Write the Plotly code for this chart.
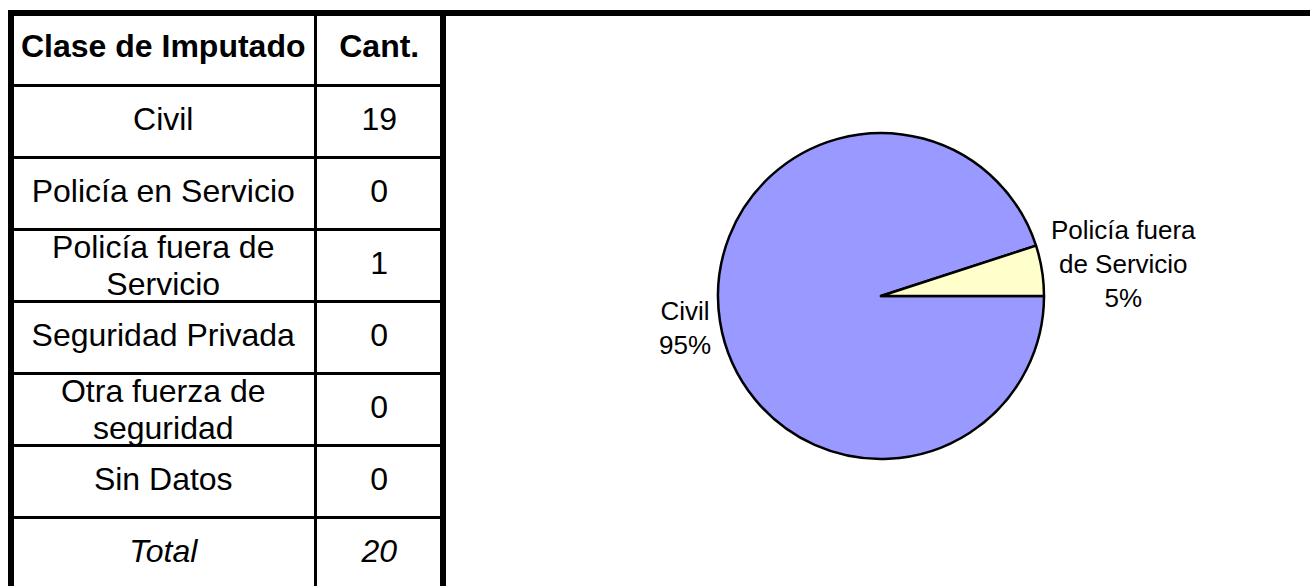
import math
import plotly.graph_objects as go

# ---------------- data ----------------
header = ["Clase de Imputado", "Cant."]
categories = ["Civil", "Policía en Servicio", "Policía fuera de Servicio",
              "Seguridad Privada", "Otra fuerza de seguridad", "Sin Datos"]
counts = [19, 0, 1, 0, 0, 0]
table_lines = [["Civil"], ["Policía en Servicio"], ["Policía fuera de", "Servicio"],
               ["Seguridad Privada"], ["Otra fuerza de", "seguridad"], ["Sin Datos"]]
pie_labels = ["Civil", "Policía en Servicio", "Policía fuera<br>de Servicio",
              "Seguridad Privada", "Otra fuerza de<br>seguridad", "Sin Datos"]
slice_colors = ["#9999FF", "#993366", "#FFFFCC", "#CCFFFF", "#660066", "#FF8080"]
total_label = "Total"
total_value = sum(counts)

# ---------------- layout constants ----------------
W, H = 1310, 586
FONT = "Liberation Sans, Arial, sans-serif"
T_FS = 32
L_FS = 26
LEFT, SPLIT, RIGHT = 11, 315.5, 443
TOP = 13
HEADER_H = 72.5
ROW_H = 72
LINE_GAP = 18.5
LINE_SHIFT = 2.5

col_c = [(LEFT + SPLIT) / 2, (SPLIT + RIGHT) / 2]
n_rows = len(categories) + 1  # body + total
bounds = [TOP, TOP + HEADER_H] + [TOP + HEADER_H + ROW_H * (i + 1) for i in range(n_rows)]
centers = [(bounds[i] + bounds[i + 1]) / 2 for i in range(len(bounds) - 1)]

fig = go.Figure()

# header text
fig.add_trace(go.Scatter(
    x=col_c, y=[centers[0]] * 2, mode="text", text=header,
    textfont=dict(family=FONT, size=T_FS, color="black", weight="bold"),
    hoverinfo="skip", showlegend=False, cliponaxis=False))

# body text
bx, by, bt = [], [], []
for i, (lines, v) in enumerate(zip(table_lines, counts)):
    c = centers[i + 1]
    k = len(lines)
    for j, ln in enumerate(lines):
        bx.append(col_c[0])
        off = (j - (k - 1) / 2) * 2 * LINE_GAP + (LINE_SHIFT if k > 1 else 0)
        by.append(c + off)
        bt.append(ln)
    bx.append(col_c[1]); by.append(c); bt.append(str(v))
fig.add_trace(go.Scatter(
    x=bx, y=by, mode="text", text=bt,
    textfont=dict(family=FONT, size=T_FS, color="black"),
    hoverinfo="skip", showlegend=False, cliponaxis=False))

# total row
fig.add_trace(go.Scatter(
    x=col_c, y=[centers[-1]] * 2, mode="text", text=[total_label, str(total_value)],
    textfont=dict(family=FONT, size=T_FS, color="black", style="italic"),
    hoverinfo="skip", showlegend=False, cliponaxis=False))

# pie (only non-zero categories are drawn)
nz = [i for i, v in enumerate(counts) if v > 0]
CX, CY, R = 881, 296, 163
fig.add_trace(go.Pie(
    values=[counts[i] for i in nz],
    labels=[categories[i] for i in nz],
    marker=dict(colors=[slice_colors[i] for i in nz], line=dict(color="black", width=2.5)),
    sort=False, direction="clockwise", rotation=90,
    textinfo="none",
    domain=dict(x=[(CX - R) / W, (CX + R) / W], y=[(H - CY - R) / H, (H - CY + R) / H]),
    showlegend=False, hoverinfo="skip"))

# outside labels placed at each slice's mid-angle
annotations = []
tot = sum(counts[i] for i in nz)
start = 90.0  # clockwise from 12 o'clock
LABEL_OFF = 7
LABEL_RISE = 5
for i in nz:
    span = 360.0 * counts[i] / tot
    mid = start + span / 2
    start += span
    a = math.radians(90 - mid)  # standard math angle
    px = CX + math.cos(a) * (R + LABEL_OFF)
    py = CY - math.sin(a) * (R + LABEL_OFF)
    py += -LABEL_RISE if math.sin(a) >= 0 else LABEL_RISE
    annotations.append(dict(
        x=px, y=py, xref="x", yref="y", showarrow=False,
        text=f"{pie_labels[i]}<br>{round(100 * counts[i] / tot)}%",
        xanchor="left" if math.cos(a) >= 0 else "right", yanchor="middle",
        align="center", font=dict(family=FONT, size=L_FS, color="black")))

shapes = []
# horizontal inner lines
for yb in bounds[1:-1]:
    shapes.append(dict(type="line", xref="x", yref="y", x0=LEFT, x1=RIGHT, y0=yb, y1=yb,
                       line=dict(color="black", width=3)))
# column divider
shapes.append(dict(type="line", xref="x", yref="y", x0=SPLIT, x1=SPLIT, y0=TOP, y1=H + 10,
                   line=dict(color="black", width=3)))
# outer borders
for xb in (LEFT, RIGHT):
    shapes.append(dict(type="line", xref="x", yref="y", x0=xb, x1=xb, y0=TOP, y1=H + 10,
                       line=dict(color="black", width=6)))
shapes.append(dict(type="line", xref="x", yref="y", x0=LEFT - 3, x1=W + 10, y0=TOP, y1=TOP,
                   line=dict(color="black", width=6)))

fig.update_layout(
    width=W, height=H, margin=dict(l=0, r=0, t=0, b=0),
    paper_bgcolor="white", plot_bgcolor="white",
    xaxis=dict(range=[0, W], visible=False, fixedrange=True, domain=[0, 1]),
    yaxis=dict(range=[H, 0], visible=False, fixedrange=True, domain=[0, 1]),
    shapes=shapes, annotations=annotations, showlegend=False,
)

fig.write_html("out.html", config={"displayModeBar": False},
               post_script="document.body.style.margin='0px';document.body.style.overflow='hidden';")
